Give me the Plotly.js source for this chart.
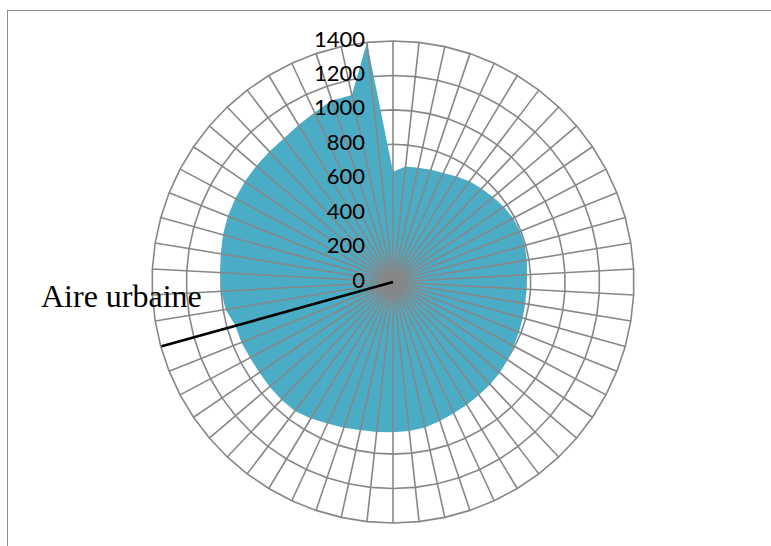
<!DOCTYPE html>
<html>
<head>
<meta charset="utf-8">
<script src="https://cdn.plot.ly/plotly-3.0.1.min.js"></script>
<style>
  html, body { margin: 0; padding: 0; background: #fff; }
  #wrap { position: relative; width: 771px; height: 546px; overflow: hidden; }
  #chart { position: absolute; left: 0; top: 0; width: 771px; height: 546px; }
  #frame { position: absolute; left: 7px; top: 10px; width: 780px; height: 600px; border: 1px solid #8c8c8c; pointer-events: none; }
</style>
</head>
<body>
<div id="wrap">
  <div id="chart"></div>
  <div id="frame"></div>
</div>
<script>
// 58 categories (spokes), first at the top, clockwise
var categories = [];
for (var i = 1; i <= 58; i++) categories.push('C' + i);

// values (one per spoke, clockwise from the top)
var values = [
  640, 675, 680, 688, 698, 715, 735, 748, 762, 778,
  790, 795, 795, 788, 780, 778, 778, 782, 788, 794,
  805, 814, 820, 825, 832, 840, 852, 866, 870, 873,
  877, 881, 893, 906, 925, 942, 942, 940, 938, 940,
  948, 950, 985, 1000, 1006, 1014, 1025, 1033, 1037, 1040,
  1042, 1044, 1048, 1065, 1085, 1112, 1112, 1400
];

var radialTicks = [0, 200, 400, 600, 800, 1000, 1200, 1400];
var tickLabels = ['0', '200', '400', '600', '800', '1000', '1200', '1400'];
var labelCategory = 'C42';
var labelText = 'Aire urbaine';

var gridColor = '#878787';

// spokes drawn over the fill
var spokeTheta = [], spokeR = [];
categories.forEach(function (c) {
  spokeTheta.push(c, c, null);
  spokeR.push(radialTicks[0], radialTicks[radialTicks.length - 1], null);
});

var traces = [
  {
    type: 'scatterpolar',
    theta: categories,
    r: values,
    mode: 'lines',
    fill: 'toself',
    fillcolor: '#4BACC6',
    line: { color: '#4BACC6', width: 0 },
    hoverinfo: 'skip',
    showlegend: false
  },
  {
    type: 'scatterpolar',
    theta: spokeTheta,
    r: spokeR,
    mode: 'lines',
    line: { color: gridColor, width: 1.6 },
    connectgaps: false,
    hoverinfo: 'skip',
    showlegend: false
  },
  {
    type: 'scatterpolar',
    theta: [labelCategory, labelCategory],
    r: [radialTicks[0], radialTicks[radialTicks.length - 1]],
    mode: 'lines',
    line: { color: '#000000', width: 2.6 },
    hoverinfo: 'skip',
    showlegend: false
  },
  {
    // radial value labels along the top spoke (on an overlaid, bare polar subplot)
    type: 'scatterpolar',
    subplot: 'polar2',
    theta: radialTicks.map(function () { return categories[0]; }),
    r: radialTicks,
    text: tickLabels,
    mode: 'markers+text',
    textposition: 'middle left',
    marker: { size: 43, color: 'rgba(0,0,0,0)', line: { width: 0 } },
    textfont: { family: 'Lato, "Open Sans", sans-serif', size: 22, color: '#000000' },
    cliponaxis: false,
    hoverinfo: 'skip',
    showlegend: false
  }
];

var bareAngular = {
  type: 'category',
  categoryorder: 'array',
  categoryarray: categories,
  rotation: 90,
  direction: 'clockwise',
  showticklabels: false,
  ticks: '',
  showgrid: false,
  showline: false
};

var layout = {
  width: 771,
  height: 546,
  margin: { l: 152, r: 137, t: 41, b: 23 },
  paper_bgcolor: '#ffffff',
  plot_bgcolor: '#ffffff',
  showlegend: false,
  polar: {
    domain: { x: [0, 1], y: [0, 1] },
    bgcolor: '#ffffff',
    gridshape: 'linear',
    angularaxis: {
      type: 'category',
      categoryorder: 'array',
      categoryarray: categories,
      rotation: 90,
      direction: 'clockwise',
      showticklabels: false,
      ticks: '',
      showgrid: false,
      showline: true,
      linecolor: gridColor,
      linewidth: 1.6
    },
    radialaxis: {
      range: [0, 1400],
      tickvals: radialTicks,
      angle: 90,
      showticklabels: false,
      ticks: '',
      showline: false,
      gridcolor: gridColor,
      gridwidth: 1.6
    }
  },
  polar2: {
    domain: { x: [0, 1], y: [0, 1] },
    bgcolor: 'rgba(0,0,0,0)',
    gridshape: 'circular',
    angularaxis: bareAngular,
    radialaxis: {
      range: [0, 1400],
      angle: 90,
      showticklabels: false,
      ticks: '',
      showline: false,
      showgrid: false
    }
  },
  annotations: [
    {
      xref: 'paper', yref: 'paper',
      x: -0.2344, y: 0.471,
      xanchor: 'left', yanchor: 'middle',
      text: labelText,
      showarrow: false,
      font: { family: '"Liberation Serif", "Times New Roman", serif', size: 32, color: '#000000' }
    }
  ]
};

Plotly.newPlot('chart', traces, layout, { staticPlot: true, displayModeBar: false });
</script>
</body>
</html>
